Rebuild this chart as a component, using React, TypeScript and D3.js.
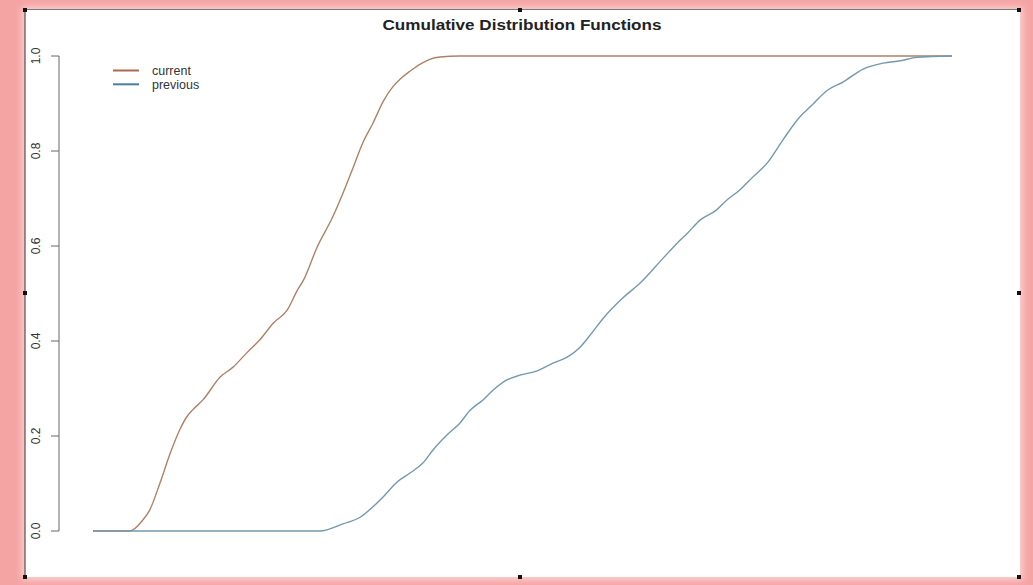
import React from "react";
import * as d3 from "d3";

// x in arbitrary units (0..100), y = cumulative probability
const currentX = [0, 4.3, 5.8, 6.6, 7.8, 9.0, 10.1, 10.9, 11.6, 12.8, 14.8, 16.3, 17.9, 19.4, 21.0, 22.6, 23.8, 24.5, 26.1, 27.9, 29.1, 30.3, 31.4, 32.6, 33.8, 34.9, 35.8, 36.9, 38.1, 39.2, 40.4, 42.7, 100];
const currentY = [0, 0, 0.023, 0.044, 0.101, 0.164, 0.213, 0.24, 0.255, 0.276, 0.324, 0.345, 0.375, 0.402, 0.438, 0.465, 0.507, 0.528, 0.598, 0.661, 0.711, 0.766, 0.817, 0.859, 0.905, 0.935, 0.952, 0.968, 0.983, 0.993, 0.998, 1.0, 1.0];

const previousX = [0, 26.4, 29.1, 31.1, 32.6, 33.8, 35.4, 36.9, 38.4, 39.6, 41.2, 42.7, 43.9, 45.4, 46.6, 48.2, 49.7, 51.7, 53.6, 55.2, 56.7, 57.9, 59.4, 61.7, 63.7, 66.4, 68.0, 69.2, 70.7, 72.6, 73.8, 75.3, 76.8, 78.5, 80.3, 82.3, 83.5, 85.5, 87.3, 89.6, 92.0, 94.0, 95.9, 100];
const previousY = [0, 0, 0.015, 0.029, 0.051, 0.072, 0.103, 0.122, 0.143, 0.171, 0.202, 0.227, 0.254, 0.276, 0.297, 0.318, 0.328, 0.337, 0.354, 0.366, 0.387, 0.413, 0.448, 0.491, 0.522, 0.575, 0.606, 0.627, 0.655, 0.676, 0.697, 0.718, 0.745, 0.775, 0.823, 0.872, 0.893, 0.928, 0.945, 0.972, 0.985, 0.990, 0.997, 1.0];

const yTicks = [0, 0.2, 0.4, 0.6, 0.8, 1.0];
const seriesNames = ["current", "previous"];
const seriesColors = ["#a86a4c", "#4a7fa2"];
const curveColors = ["#b08068", "#7499ae"];
const title = "Cumulative Distribution Functions";

export default function App() {
  const W = 1033, H = 585;
  const x = d3.scaleLinear().domain([0, 100]).range([93, 952]);
  const y = d3.scaleLinear().domain([0, 1]).range([531, 56]);
  const line = d3.line<[number, number]>().x(d => x(d[0])).y(d => y(d[1])).curve(d3.curveMonotoneX);
  const cur: [number, number][] = currentX.map((v, i) => [v, currentY[i]]);
  const prev: [number, number][] = previousX.map((v, i) => [v, previousY[i]]);
  const font = "Liberation Sans, Arial, Helvetica, sans-serif";
  const handles = [[25, 10], [520, 10], [1019, 10], [25, 293], [1019, 293], [25, 577], [520, 577], [1019, 577]];
  return (
    <svg width={W} height={H} style={{ position: "absolute", left: 0, top: 0, display: "block" }} fontFamily={font}>
      <defs>
        <filter id="glow" x="-5%" y="-5%" width="110%" height="110%">
          <feGaussianBlur stdDeviation="3" />
        </filter>
      </defs>
      <rect x={0} y={0} width={W} height={H} fill="#f5a4a4" />
      <rect x={22} y={7} width={1001} height={573} fill="#fbd0d0" filter="url(#glow)" />
      <rect x={25} y={9} width={995} height={568} fill="#ffffff" />
      <line x1={25} y1={9} x2={25} y2={577} stroke="#333" strokeWidth={1} />
      <line x1={25} y1={9.5} x2={1020} y2={9.5} stroke="#555" strokeWidth={0.8} />
      {handles.map((h, i) => (
        <rect key={i} x={h[0] - 2} y={h[1] - 2} width={4} height={4} fill="#111" />
      ))}
      <text x={522} y={30} textAnchor="middle" fontWeight="bold" fontSize={14.5} fill="#222" textLength={279} lengthAdjust="spacingAndGlyphs">{title}</text>
      {/* y axis */}
      <line x1={59} y1={y(0)} x2={59} y2={y(1)} stroke="#666" strokeWidth={1} />
      {yTicks.map(t => (
        <g key={t}>
          <line x1={51} x2={59} y1={y(t)} y2={y(t)} stroke="#666" strokeWidth={1} />
          <text transform={`translate(39.5,${y(t)}) rotate(-90)`} textAnchor="middle" fontSize={12} fill="#333">{t.toFixed(1)}</text>
        </g>
      ))}
      <path d={line(cur) || ""} fill="none" stroke={curveColors[0]} strokeWidth={1.4} />
      <path d={line(prev) || ""} fill="none" stroke={curveColors[1]} strokeWidth={1.4} />
      {/* legend */}
      {seriesNames.map((n, i) => (
        <g key={n}>
          <line x1={113} x2={139} y1={70.5 + i * 13.8} y2={70.5 + i * 13.8} stroke={seriesColors[i]} strokeWidth={2} />
          <text x={152} y={75 + i * 13.8} fontSize={12.5} fill="#333">{n}</text>
        </g>
      ))}
    </svg>
  );
}
